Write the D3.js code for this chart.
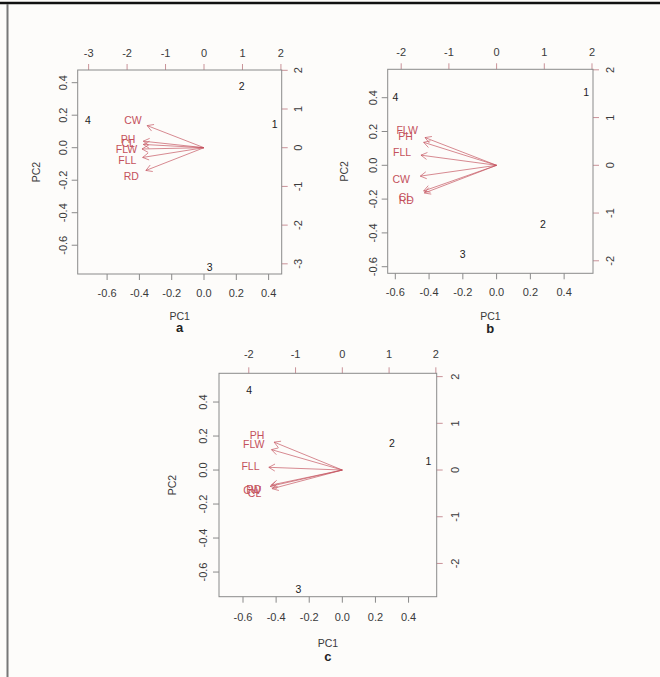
<!DOCTYPE html>
<meta charset="utf-8">
<style>
  body { margin: 0; background: #fdfcfa; }
  text { font-family: "Liberation Sans", Arial, sans-serif; }
</style>
<body>
<svg width="660" height="677"></svg>
</body>
<script src="https://d3js.org/d3.v7.min.js"></script>
<script>

// variable loadings (label positions), per panel
var varsA = ["CW", "PH", "CL", "FLW", "FLL", "RD"];
var pc1A = [-0.44, -0.47, -0.47, -0.48, -0.475, -0.45];
var pc2A = [0.17, 0.05, 0.025, -0.01, -0.075, -0.175];

var varsB = ["FLW", "PH", "FLL", "CW", "CL", "RD"];
var pc1B = [-0.53, -0.54, -0.56, -0.565, -0.54, -0.535];
var pc2B = [0.205, 0.17, 0.075, -0.08, -0.19, -0.205];

var varsC = ["PH", "FLW", "FLL", "RD", "CW", "CL"];
var pc1C = [-0.515, -0.535, -0.555, -0.535, -0.545, -0.53];
var pc2C = [0.205, 0.15, 0.02, -0.11, -0.12, -0.137];

// observation scores 1..4 (top / right axes)
var obs = ["1", "2", "3", "4"];
var s1A = [1.84, 0.98, 0.15, -3.02], s2A = [0.61, 1.58, -3.10, 0.72];
var s1B = [1.88, 0.97, -0.71, -2.12], s2B = [1.54, -1.23, -1.87, 1.43];
var s1C = [1.84, 1.06, -0.94, -1.99], s2C = [0.18, 0.57, -2.55, 1.70];

// axis limits: loadings (bottom/left) and scores (top/right)
var xlimA = [-0.782, 0.481], ylimA = [-0.777, 0.478], sxA = [-3.284, 2.02], syA = [-3.263, 2.008];
var xlimB = [-0.645, 0.571], ylimB = [-0.639, 0.568], sxB = [-2.283, 2.021], syB = [-2.262, 2.011];
var xlimC = [-0.745, 0.570], ylimC = [-0.745, 0.569], sxC = [-2.637, 2.018], syC = [-2.712, 2.071];

var loadTicks = [-0.6, -0.4, -0.2, 0.0, 0.2, 0.4];
var scoreTicksA = [-3, -2, -1, 0, 1, 2];
var scoreTicksBC = [-2, -1, 0, 1, 2];

var red = "#c4515c", tickRed = "#c99298", grey = "#8a8a8a", txt = "#3a3a3a";

var svg = d3.select("svg");

// page frame
svg.append("line").attr("x1", 0).attr("x2", 660).attr("y1", 3).attr("y2", 3)
    .attr("stroke", "#111").attr("stroke-width", 2.5);
svg.append("line").attr("x1", 7.5).attr("x2", 7.5).attr("y1", 4).attr("y2", 677)
    .attr("stroke", "#777").attr("stroke-width", 2);

function panel(p) {
  var g = svg.append("g");
  var x = d3.scaleLinear().domain(p.xlim).range([p.x0, p.x1]);
  var y = d3.scaleLinear().domain(p.ylim).range([p.y1, p.y0]);
  var sx = d3.scaleLinear().domain(p.sx).range([p.x0, p.x1]);
  var sy = d3.scaleLinear().domain(p.sy).range([p.y1, p.y0]);
  var tl = 6, m = p.m;
  var fmt = function (t) { return d3.format(".1f")(t).replace("−", "-"); };

  // bottom axis
  loadTicks.forEach(function (t) {
    g.append("line").attr("x1", x(t)).attr("x2", x(t)).attr("y1", p.y1).attr("y2", p.y1 + tl)
      .attr("stroke", grey);
    g.append("text").attr("x", x(t)).attr("y", p.y1 + 18.5 * m + 4).attr("text-anchor", "middle")
      .attr("font-size", 11).attr("fill", txt).text(fmt(t));
  });
  // left axis
  loadTicks.forEach(function (t) {
    g.append("line").attr("x1", p.x0 - tl).attr("x2", p.x0).attr("y1", y(t)).attr("y2", y(t))
      .attr("stroke", grey);
    g.append("text").attr("transform", "translate(" + (p.x0 - 14.5 * m + 4) + "," + y(t) + ") rotate(-90)")
      .attr("text-anchor", "middle").attr("font-size", 11).attr("fill", txt).text(fmt(t));
  });
  // top axis (scores)
  p.sticks.forEach(function (t) {
    g.append("line").attr("x1", sx(t)).attr("x2", sx(t)).attr("y1", p.y0 - tl).attr("y2", p.y0)
      .attr("stroke", tickRed);
    g.append("text").attr("x", sx(t)).attr("y", p.y0 - 17 * m + 4).attr("text-anchor", "middle")
      .attr("font-size", 11).attr("fill", txt).text(String(t));
  });
  // right axis (scores)
  p.sticks.forEach(function (t) {
    g.append("line").attr("x1", p.x1).attr("x2", p.x1 + tl).attr("y1", sy(t)).attr("y2", sy(t))
      .attr("stroke", tickRed);
    g.append("text").attr("transform", "translate(" + (p.x1 + 16.5 * m + 4) + "," + sy(t) + ") rotate(-90)")
      .attr("text-anchor", "middle").attr("font-size", 11).attr("fill", txt).text(String(t));
  });

  // box
  g.append("rect").attr("x", p.x0).attr("y", p.y0).attr("width", p.x1 - p.x0).attr("height", p.y1 - p.y0)
    .attr("fill", "none").attr("stroke", grey);

  // axis titles + panel letter
  var mx = (p.x0 + p.x1) / 2, my = (p.y0 + p.y1) / 2;
  g.append("text").attr("x", mx).attr("y", p.y1 + 41.5 * m + 4).attr("text-anchor", "middle")
    .attr("font-size", 10.5).attr("fill", txt).text("PC1");
  g.append("text").attr("transform", "translate(" + (p.x0 - 42 * m + 4) + "," + my + ") rotate(-90)")
    .attr("text-anchor", "middle").attr("font-size", 10.5).attr("fill", txt).text("PC2");
  g.append("text").attr("x", mx).attr("y", p.y1 + 54 * m + 4).attr("text-anchor", "middle")
    .attr("font-family", "Liberation Serif, Times New Roman, serif").attr("font-weight", "bold")
    .attr("font-size", 13).attr("fill", "#222").text(p.letter);

  // observation labels
  obs.forEach(function (o, i) {
    g.append("text").attr("x", sx(p.s1[i])).attr("y", sy(p.s2[i])).attr("dy", "0.36em")
      .attr("text-anchor", "middle").attr("font-size", 10.5).attr("fill", "#222").text(o);
  });

  // arrows to 0.8 * loading, labels at loading
  p.vars.forEach(function (v, i) {
    var tx = x(0.8 * p.pc1[i]), ty = y(0.8 * p.pc2[i]);
    var ox = x(0), oy = y(0);
    var ang = Math.atan2(ty - oy, tx - ox), hl = 7, ha = Math.PI / 6;
    var path = d3.path();
    path.moveTo(ox, oy); path.lineTo(tx, ty);
    path.moveTo(tx - hl * Math.cos(ang - ha), ty - hl * Math.sin(ang - ha));
    path.lineTo(tx, ty);
    path.lineTo(tx - hl * Math.cos(ang + ha), ty - hl * Math.sin(ang + ha));
    g.append("path").attr("d", path.toString()).attr("fill", "none")
      .attr("stroke", red).attr("stroke-width", 0.9).attr("stroke-opacity", 0.75);
    g.append("text").attr("x", x(p.pc1[i])).attr("y", y(p.pc2[i])).attr("dy", "0.36em")
      .attr("text-anchor", "middle").attr("font-size", 10.5).attr("fill", red).text(v);
  });
}

panel({ letter: "a", m: 1, x0: 77.7, x1: 281.7, y0: 70, y1: 274,
  xlim: xlimA, ylim: ylimA, sx: sxA, sy: syA, sticks: scoreTicksA,
  vars: varsA, pc1: pc1A, pc2: pc2A, s1: s1A, s2: s2A });
panel({ letter: "b", m: 1.03, x0: 387.7, x1: 593, y0: 69.3, y1: 273.3,
  xlim: xlimB, ylim: ylimB, sx: sxB, sy: syB, sticks: scoreTicksBC,
  vars: varsB, pc1: pc1B, pc2: pc2B, s1: s1B, s2: s2B });
panel({ letter: "c", m: 1.12, x0: 219, x1: 436.7, y0: 373.3, y1: 596.7,
  xlim: xlimC, ylim: ylimC, sx: sxC, sy: syC, sticks: scoreTicksBC,
  vars: varsC, pc1: pc1C, pc2: pc2C, s1: s1C, s2: s2C });

</script>
